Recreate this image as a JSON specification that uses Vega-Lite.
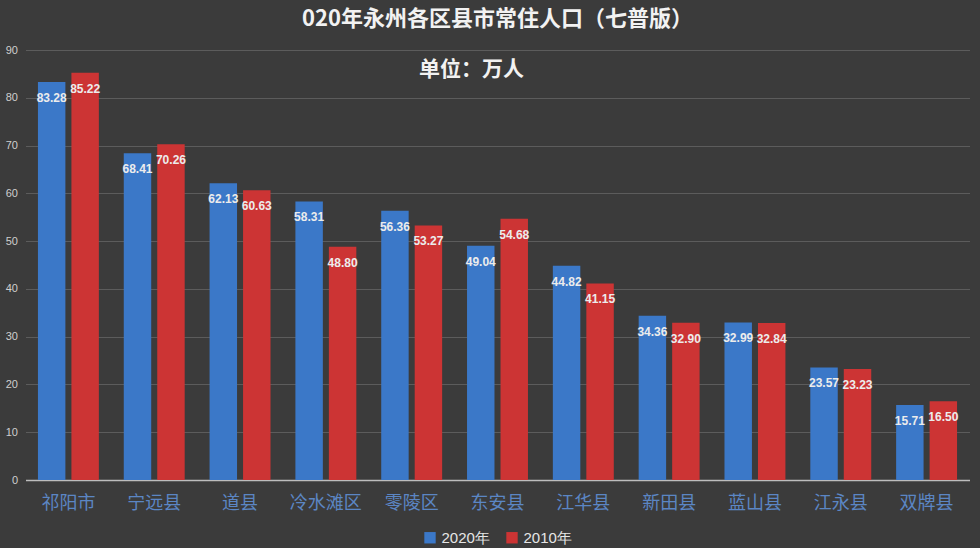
{
  "$schema": "https://vega.github.io/schema/vega-lite/v6.json",
  "width": 944,
  "height": 430,
  "autosize": {"type": "none"},
  "padding": {"left": 25.5, "top": 50, "right": 10.5, "bottom": 68},
  "background": "#3b3b3b",
  "title": {
    "text": "020年永州各区县市常住人口（七普版）",
    "color": "#f2f2f2",
    "fontSize": 22,
    "font": "Noto Sans CJK SC",
    "fontWeight": "bold",
    "anchor": "middle",
    "offset": 13
  },
  "config": {
    "view": {"stroke": null},
    "font": "Noto Sans CJK SC",
    "legend": {"layout": {"bottom": {"anchor": "middle"}}}
  },
  "datasets": {
    "pop": [
      {"region": "祁阳市", "year": "2020年", "value": 83.28},
      {"region": "祁阳市", "year": "2010年", "value": 85.22},
      {"region": "宁远县", "year": "2020年", "value": 68.41},
      {"region": "宁远县", "year": "2010年", "value": 70.26},
      {"region": "道县", "year": "2020年", "value": 62.13},
      {"region": "道县", "year": "2010年", "value": 60.63},
      {"region": "冷水滩区", "year": "2020年", "value": 58.31},
      {"region": "冷水滩区", "year": "2010年", "value": 48.80},
      {"region": "零陵区", "year": "2020年", "value": 56.36},
      {"region": "零陵区", "year": "2010年", "value": 53.27},
      {"region": "东安县", "year": "2020年", "value": 49.04},
      {"region": "东安县", "year": "2010年", "value": 54.68},
      {"region": "江华县", "year": "2020年", "value": 44.82},
      {"region": "江华县", "year": "2010年", "value": 41.15},
      {"region": "新田县", "year": "2020年", "value": 34.36},
      {"region": "新田县", "year": "2010年", "value": 32.90},
      {"region": "蓝山县", "year": "2020年", "value": 32.99},
      {"region": "蓝山县", "year": "2010年", "value": 32.84},
      {"region": "江永县", "year": "2020年", "value": 23.57},
      {"region": "江永县", "year": "2010年", "value": 23.23},
      {"region": "双牌县", "year": "2020年", "value": 15.71},
      {"region": "双牌县", "year": "2010年", "value": 16.50}
    ],
    "note": [
      {"label": "单位：万人"}
    ]
  },
  "layer": [
    {
      "data": {"name": "pop"},
      "mark": {"type": "bar"},
      "encoding": {
        "x": {
          "field": "region",
          "type": "nominal",
          "sort": null,
          "scale": {"paddingInner": 0.29, "paddingOuter": 0.145},
          "axis": {
            "title": null,
            "labelAngle": 0,
            "labelColor": "#5b86c4",
            "labelFontSize": 18,
            "labelPadding": 14,
            "ticks": false,
            "domainColor": "#bdbdbd",
            "domainWidth": 1.5,
            "grid": false
          }
        },
        "xOffset": {
          "field": "year",
          "type": "nominal",
          "sort": ["2020年", "2010年"],
          "scale": {"paddingInner": 0.18, "paddingOuter": 0}
        },
        "y": {
          "field": "value",
          "type": "quantitative",
          "scale": {"domain": [0, 90], "nice": false},
          "axis": {
            "title": null,
            "values": [0, 10, 20, 30, 40, 50, 60, 70, 80, 90],
            "labelColor": "#cfcfcf",
            "labelFontSize": 11,
            "labelFont": "Liberation Sans",
            "labelPadding": 8,
            "ticks": false,
            "domain": false,
            "gridColor": "#5c5c5c",
            "gridWidth": 1
          }
        },
        "color": {
          "field": "year",
          "type": "nominal",
          "sort": ["2020年", "2010年"],
          "scale": {"domain": ["2020年", "2010年"], "range": ["#3b78c8", "#cc3434"]},
          "legend": {
            "title": null,
            "orient": "bottom",
            "direction": "horizontal",
            "symbolType": "square",
            "symbolSize": 130,
            "symbolStrokeWidth": 0,
            "labelColor": "#e6e6e6",
            "labelFontSize": 15,
            "labelFont": "Liberation Sans",
            "columnPadding": 14,
            "offset": 18
          }
        }
      }
    },
    {
      "data": {"name": "pop"},
      "mark": {
        "type": "text",
        "baseline": "middle",
        "dy": 16,
        "color": "#ececec",
        "fontSize": 12,
        "fontWeight": "bold",
        "font": "Liberation Sans"
      },
      "encoding": {
        "x": {"field": "region", "type": "nominal", "sort": null},
        "xOffset": {"field": "year", "type": "nominal", "sort": ["2020年", "2010年"]},
        "y": {"field": "value", "type": "quantitative"},
        "text": {"field": "value", "type": "quantitative", "format": ".2f"}
      }
    },
    {
      "data": {"name": "note"},
      "mark": {
        "type": "text",
        "color": "#f2f2f2",
        "fontSize": 21,
        "fontWeight": "bold",
        "font": "Noto Sans CJK SC",
        "baseline": "middle",
        "align": "center",
        "dx": 4.5
      },
      "encoding": {
        "x": {"datum": "东安县"},
        "y": {"datum": 85.8},
        "xOffset": {"value": 0},
        "text": {"field": "label", "type": "nominal"}
      }
    }
  ]
}
